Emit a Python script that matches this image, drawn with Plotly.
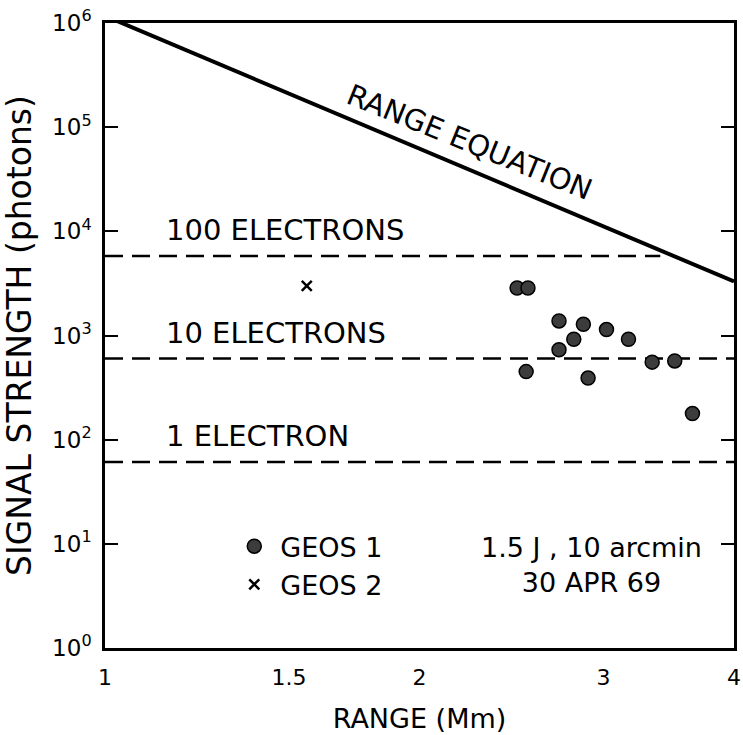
import math
import plotly.graph_objects as go

FONT = "DejaVu Sans"

# ---- data ----
geos1_range = [2.48, 2.54, 2.72, 2.87, 3.02, 2.81, 3.17, 2.72, 2.53, 2.90, 3.34, 3.51, 3.65]
geos1_signal = [2860, 2860, 1380, 1280, 1140, 920, 920, 730, 450, 390, 555, 570, 178]

geos2_range = [1.56]
geos2_signal = [2990]

range_eq_range = [1.0, 4.0]
range_eq_signal = [1.17e6, 3.3e3]

electron_levels = [5800, 600, 61]
electron_labels = ["100 ELECTRONS", "10 ELECTRONS", "1 ELECTRON"]
electron_end = [3.4, 4.0, 4.0]

x_ticks = [1, 1.5, 2, 3, 4]
x_ticktext = ["1", "1.5", "2", "3", "4"]
y_ticks = [1, 10, 100, 1e3, 1e4, 1e5, 1e6]
y_ticktext = ["10<sup>%d</sup>" % i for i in range(7)]

fig = go.Figure()

# electron level dashed lines
for lvl, xe in zip(electron_levels, electron_end):
    fig.add_trace(go.Scatter(
        x=[1.0, xe], y=[lvl, lvl], mode="lines",
        line=dict(color="black", width=2.5, dash="18px,9px"),
        showlegend=False, hoverinfo="skip"))

# range equation
fig.add_trace(go.Scatter(
    x=range_eq_range, y=range_eq_signal, mode="lines",
    line=dict(color="black", width=4), showlegend=False, hoverinfo="skip"))

# data
fig.add_trace(go.Scatter(
    x=geos1_range, y=geos1_signal, mode="markers", name="GEOS 1",
    marker=dict(symbol="circle", size=14, color="#3c3c3c",
                line=dict(color="black", width=1.5))))
fig.add_trace(go.Scatter(
    x=geos2_range, y=geos2_signal, mode="markers", name="GEOS 2",
    marker=dict(symbol="x-thin", size=10, color="black",
                line=dict(color="black", width=2.5))))

annotations = []
for lvl, lab in zip(electron_levels, electron_labels):
    annotations.append(dict(
        x=math.log10(1.14), y=math.log10(lvl), xref="x", yref="y",
        text=lab, showarrow=False, xanchor="left", yanchor="bottom",
        yshift=7, font=dict(family=FONT, size=29, color="black")))

annotations.append(dict(
    x=0.3487, y=4.858, xref="x", yref="y", text="RANGE EQUATION",
    showarrow=False, textangle=22, xanchor="center", yanchor="middle",
    font=dict(family=FONT, size=29, color="black")))

annotations.append(dict(
    x=0.774, y=0.1327, xref="paper", yref="paper",
    text="1.5 J , 10 arcmin<br>30 APR 69", showarrow=False,
    xanchor="center", yanchor="middle", align="center",
    font=dict(family=FONT, size=27, color="black")))

fig.update_layout(
    width=743, height=735,
    margin=dict(l=105, r=9, t=23, b=87),
    paper_bgcolor="white", plot_bgcolor="white",
    font=dict(family=FONT, size=22, color="black"),
    showlegend=True,
    legend=dict(x=0.196, y=0.2014, xanchor="left", yanchor="top",
                font=dict(family=FONT, size=27, color="black"),
                bgcolor="rgba(0,0,0,0)", itemwidth=42),
    annotations=annotations,
    xaxis=dict(
        type="log", range=[0, math.log10(4)], automargin=False,
        tickvals=x_ticks, ticktext=x_ticktext, ticks="",
        showgrid=False, zeroline=False,
        showline=True, linecolor="black", linewidth=2.5, mirror=True,
        tickfont=dict(family=FONT, size=22, color="black"),
        ticklabelstandoff=8,
        title=dict(text="RANGE (Mm)", standoff=20,
                   font=dict(family=FONT, size=27, color="black")),
    ),
    yaxis=dict(
        type="log", range=[0, 6], automargin=False,
        tickvals=y_ticks, ticktext=y_ticktext,
        ticks="inside", ticklen=13, tickwidth=2, tickcolor="black",
        showgrid=False, zeroline=False,
        showline=True, linecolor="black", linewidth=2.5, mirror="ticks",
        tickfont=dict(family=FONT, size=23, color="black"),
        ticklabelstandoff=6,
        title=dict(text="SIGNAL STRENGTH (photons)", standoff=12,
                   font=dict(family=FONT, size=33, color="black")),
    ),
)

fig.write_html("out.html")
